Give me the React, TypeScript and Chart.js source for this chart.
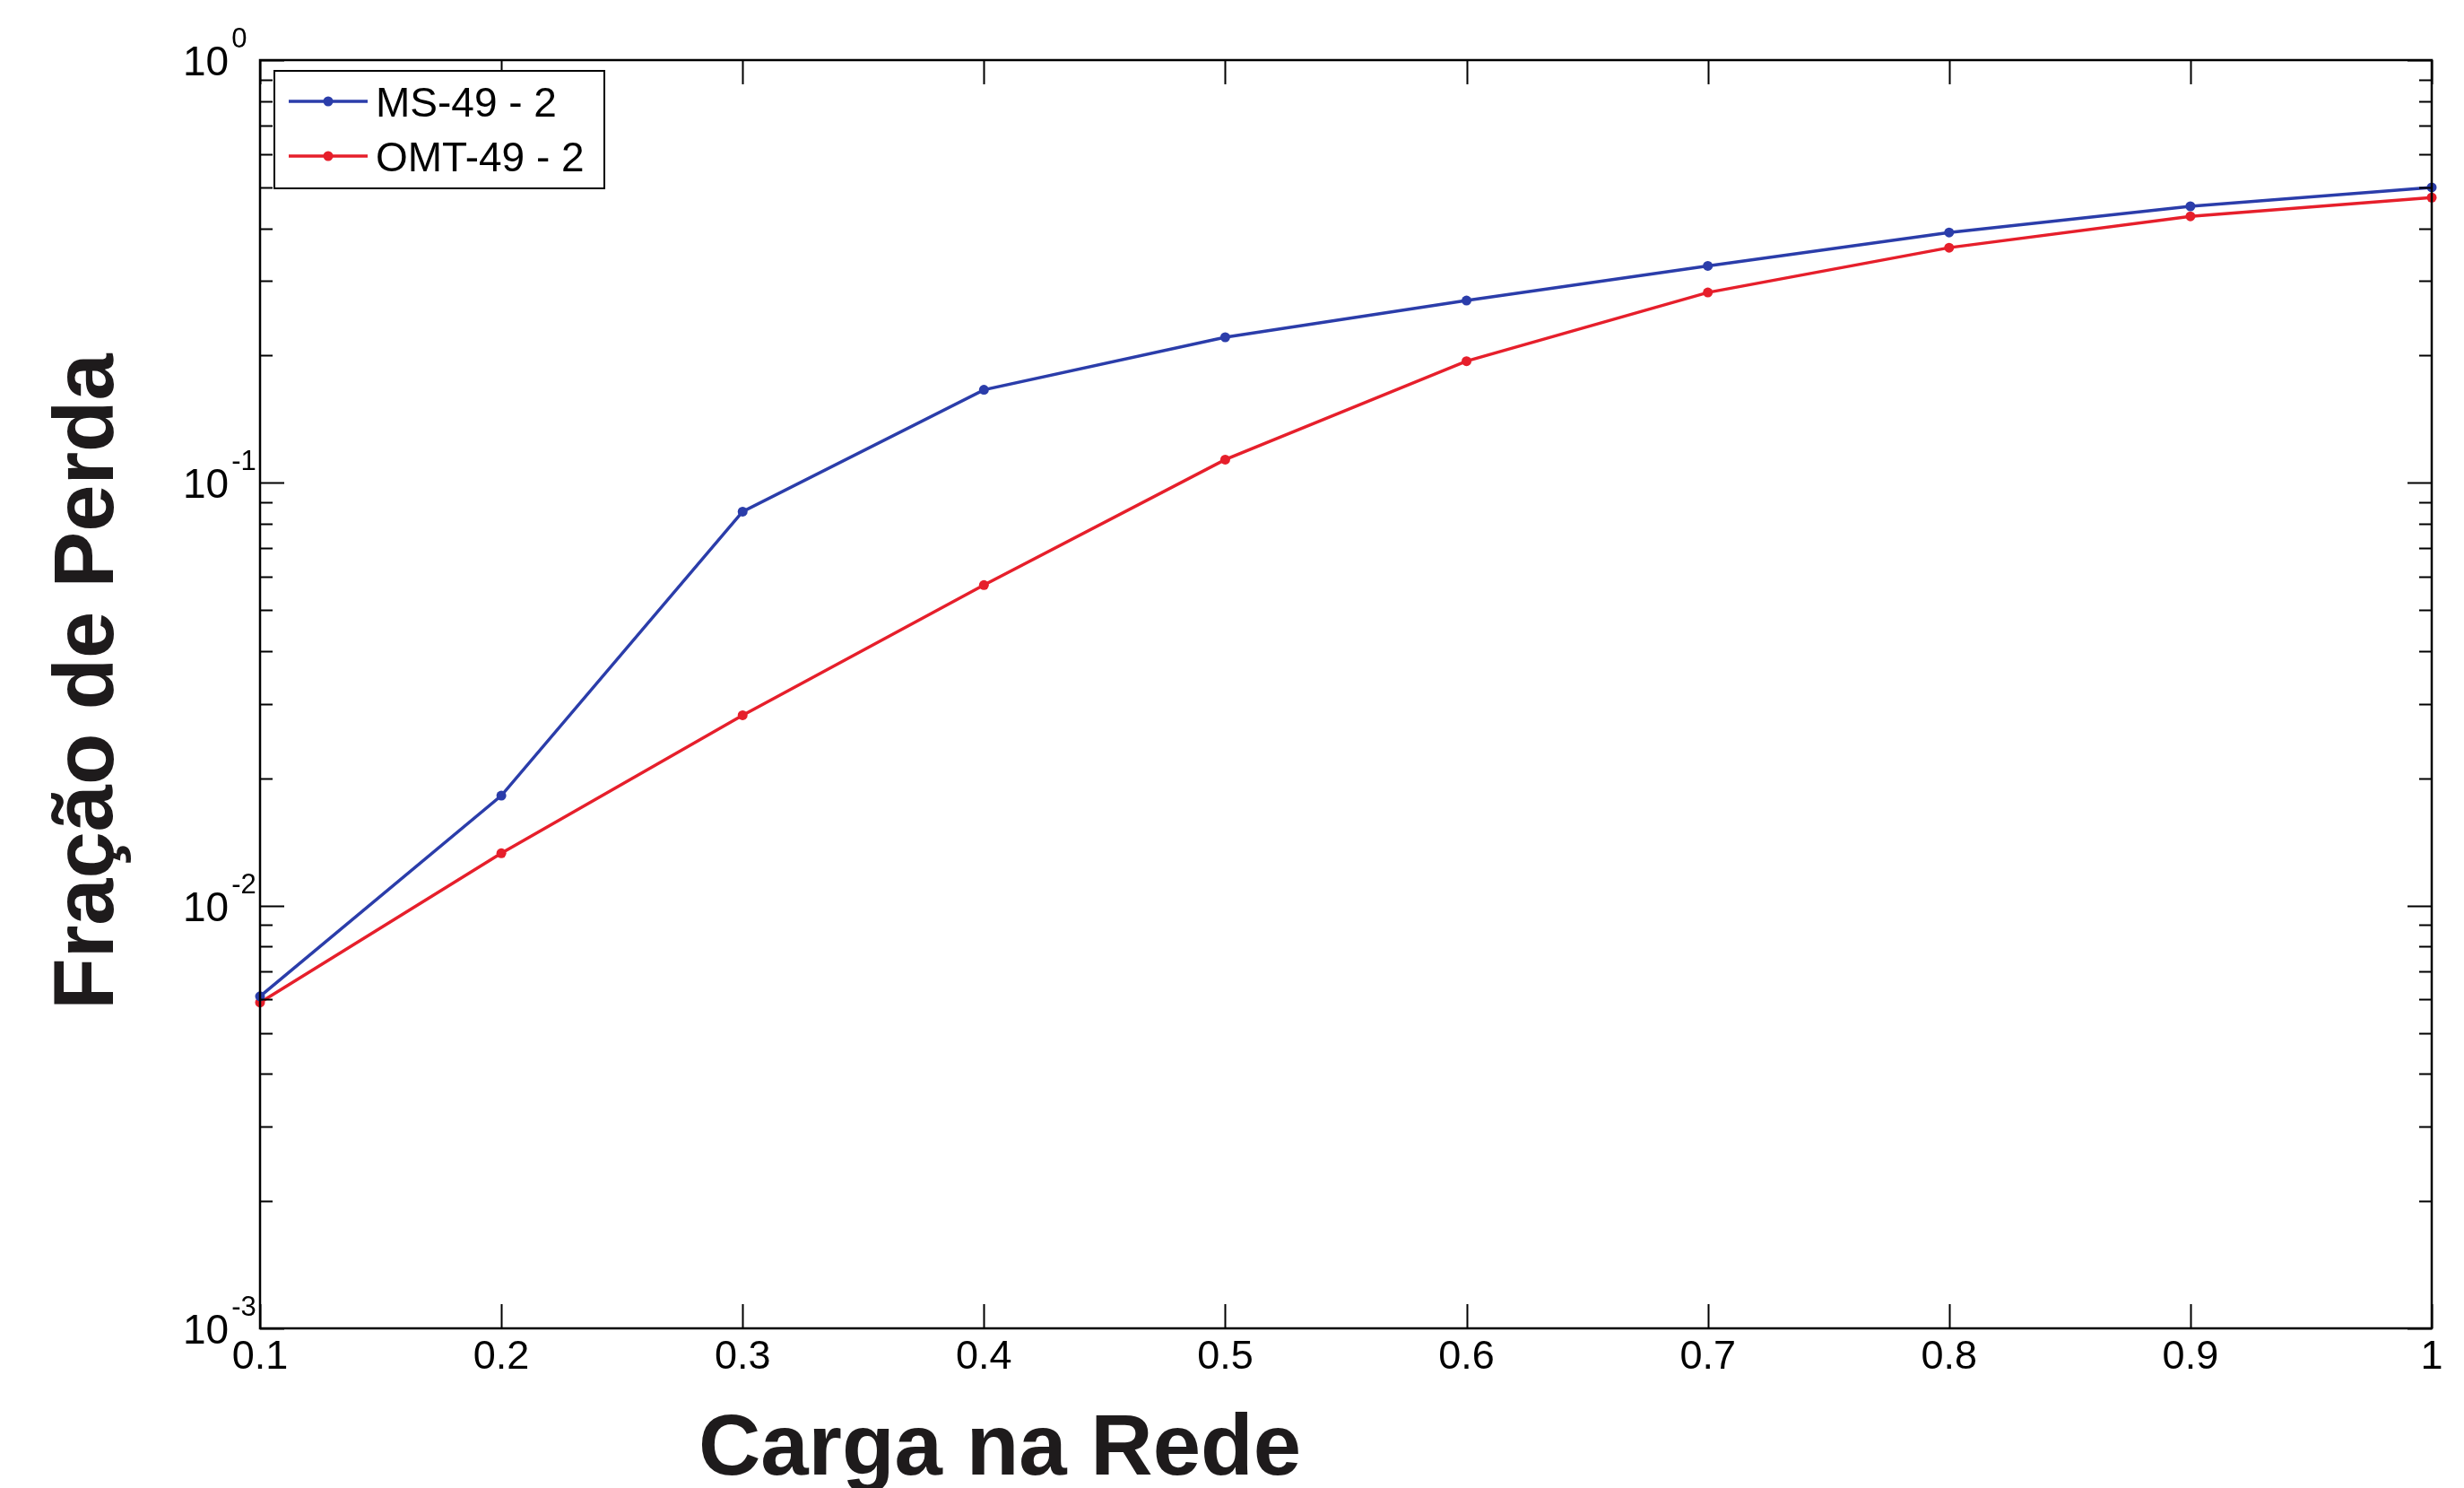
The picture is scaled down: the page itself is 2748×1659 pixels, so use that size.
import React, { useEffect, useRef } from 'react';
import { Chart, registerables } from 'chart.js';

Chart.register(...registerables);

// ---- data ----
const loadValues = [0.1, 0.2, 0.3, 0.4, 0.5, 0.6, 0.7, 0.8, 0.9, 1.0];
const msValues = [0.0061, 0.0182, 0.0855, 0.166, 0.221, 0.27, 0.326, 0.391, 0.451, 0.5];
const omtValues = [0.0059, 0.0133, 0.0282, 0.0573, 0.1135, 0.194, 0.282, 0.36, 0.427, 0.473];
const seriesLabels = ['MS-49 - 2', 'OMT-49 - 2'];
const seriesColors = ['#2b3daa', '#e61f2b'];
const xTickValues = [0.1, 0.2, 0.3, 0.4, 0.5, 0.6, 0.7, 0.8, 0.9, 1.0];
const yDecadeExponents = [-3, -2, -1, 0];
const yMinorMultipliers = [2, 3, 4, 5, 6, 7, 8, 9];
const xAxisTitle = 'Carga na Rede';
const yAxisTitle = 'Fração de Perda';

const W = 2748;
const H = 1659;
const FONT = '"Liberation Sans", Arial, Helvetica, sans-serif';

const overlayPlugin = {
  id: 'matlabOverlay',
  afterDatasetsDraw(chart: any) {
    const { ctx, chartArea: a, scales } = chart;
    const xs = scales.x;
    const ys = scales.y;
    ctx.save();
    ctx.strokeStyle = '#000';
    ctx.lineWidth = 2.5;
    ctx.lineCap = 'butt';

    // frame
    ctx.strokeRect(a.left, a.top, a.right - a.left, a.bottom - a.top);

    // ticks
    ctx.lineWidth = 2;
    ctx.beginPath();
    const major = 27;
    const minor = 14;
    for (const v of xTickValues) {
      const px = Math.round(xs.getPixelForValue(v)) + 0.5;
      ctx.moveTo(px, a.bottom);
      ctx.lineTo(px, a.bottom - major);
      ctx.moveTo(px, a.top);
      ctx.lineTo(px, a.top + major);
    }
    yDecadeExponents.forEach((e, i) => {
      const py = Math.round(ys.getPixelForValue(Math.pow(10, e))) + 0.5;
      ctx.moveTo(a.left, py);
      ctx.lineTo(a.left + major, py);
      ctx.moveTo(a.right, py);
      ctx.lineTo(a.right - major, py);
      if (i < yDecadeExponents.length - 1) {
        for (const m of yMinorMultipliers) {
          const pm = Math.round(ys.getPixelForValue(m * Math.pow(10, e))) + 0.5;
          ctx.moveTo(a.left, pm);
          ctx.lineTo(a.left + minor, pm);
          ctx.moveTo(a.right, pm);
          ctx.lineTo(a.right - minor, pm);
        }
      }
    });
    ctx.stroke();

    // y tick labels 10^e
    ctx.fillStyle = '#000';
    ctx.textBaseline = 'alphabetic';
    ctx.textAlign = 'left';
    for (const e of yDecadeExponents) {
      const py = ys.getPixelForValue(Math.pow(10, e));
      const x0 = a.left - 86;
      ctx.font = `46px ${FONT}`;
      ctx.fillText('10', x0, py + 17);
      const w = ctx.measureText('10').width;
      ctx.font = `31px ${FONT}`;
      ctx.fillText(String(e), x0 + w + 3, py - 14);
    }

    // legend box
    const bx = a.left + 16;
    const by = a.top + 12;
    const bw = 368;
    const bh = 131;
    ctx.fillStyle = '#fff';
    ctx.fillRect(bx, by, bw, bh);
    ctx.strokeStyle = '#000';
    ctx.lineWidth = 2;
    ctx.strokeRect(bx, by, bw, bh);
    const rows = [46 - 12, 107 - 12];
    chart.data.datasets.forEach((ds: any, i: number) => {
      const cy = by + rows[i];
      ctx.strokeStyle = ds.borderColor;
      ctx.lineWidth = 3.5;
      ctx.beginPath();
      ctx.moveTo(bx + 16, cy);
      ctx.lineTo(bx + 104, cy);
      ctx.stroke();
      ctx.fillStyle = ds.borderColor;
      ctx.beginPath();
      ctx.arc(bx + 60, cy, 5.5, 0, Math.PI * 2);
      ctx.fill();
      ctx.fillStyle = '#000';
      ctx.font = `46px ${FONT}`;
      ctx.textAlign = 'left';
      ctx.textBaseline = 'alphabetic';
      ctx.fillText(ds.label, bx + 113, cy + 17);
    });

    // axis titles
    ctx.fillStyle = '#1e1b1c';
    ctx.font = `bold 96px ${FONT}`;
    ctx.textAlign = 'center';
    ctx.textBaseline = 'alphabetic';
    ctx.fillText(xAxisTitle, 1115, 1644);

    ctx.save();
    ctx.translate(126, 760);
    ctx.rotate(-Math.PI / 2);
    ctx.font = `bold 94px ${FONT}`;
    ctx.fillText(yAxisTitle, 0, 0);
    ctx.restore();

    ctx.restore();
  },
};

export default function App() {
  const ref = useRef<HTMLCanvasElement | null>(null);

  useEffect(() => {
    document.body.style.margin = '0';
    const canvas = ref.current;
    if (!canvas) return;
    const chart = new Chart(canvas, {
      type: 'line',
      data: {
        datasets: [
          {
            label: seriesLabels[0],
            data: loadValues.map((x, i) => ({ x, y: msValues[i] })),
            borderColor: seriesColors[0],
            backgroundColor: seriesColors[0],
            borderWidth: 3.5,
            pointRadius: 5.5,
            pointBorderWidth: 0,
            pointBackgroundColor: seriesColors[0],
            tension: 0,
            clip: false as any,
          },
          {
            label: seriesLabels[1],
            data: loadValues.map((x, i) => ({ x, y: omtValues[i] })),
            borderColor: seriesColors[1],
            backgroundColor: seriesColors[1],
            borderWidth: 3.5,
            pointRadius: 5.5,
            pointBorderWidth: 0,
            pointBackgroundColor: seriesColors[1],
            tension: 0,
            clip: false as any,
          },
        ],
      },
      options: {
        responsive: false,
        animation: false,
        devicePixelRatio: 1,
        layout: { padding: { left: 0, top: 67, right: 36, bottom: 0 } },
        plugins: {
          legend: { display: false },
          tooltip: { enabled: false },
        },
        scales: {
          x: {
            type: 'linear',
            min: 0.1,
            max: 1,
            afterBuildTicks: (s: any) => {
              s.ticks = xTickValues.map((v) => ({ value: v }));
            },
            afterFit: (s: any) => {
              s.height = 178;
            },
            ticks: {
              autoSkip: false,
              maxRotation: 0,
              padding: 6,
              color: '#000',
              font: { size: 45, family: FONT },
              callback: (v: any) => String(Number(Number(v).toFixed(1))),
            },
            grid: { display: false, drawTicks: false },
            border: { display: false },
          },
          y: {
            type: 'logarithmic',
            min: 0.001,
            max: 1,
            afterFit: (s: any) => {
              s.width = 290;
            },
            ticks: { display: false },
            grid: { display: false, drawTicks: false },
            border: { display: false },
          },
        },
      },
      plugins: [overlayPlugin],
    } as any);
    return () => chart.destroy();
  }, []);

  return (
    <div style={{ position: 'absolute', left: 0, top: 0, width: W, height: H, background: '#fff' }}>
      <canvas ref={ref} width={W} height={H} style={{ display: 'block', width: W, height: H }} />
    </div>
  );
}
